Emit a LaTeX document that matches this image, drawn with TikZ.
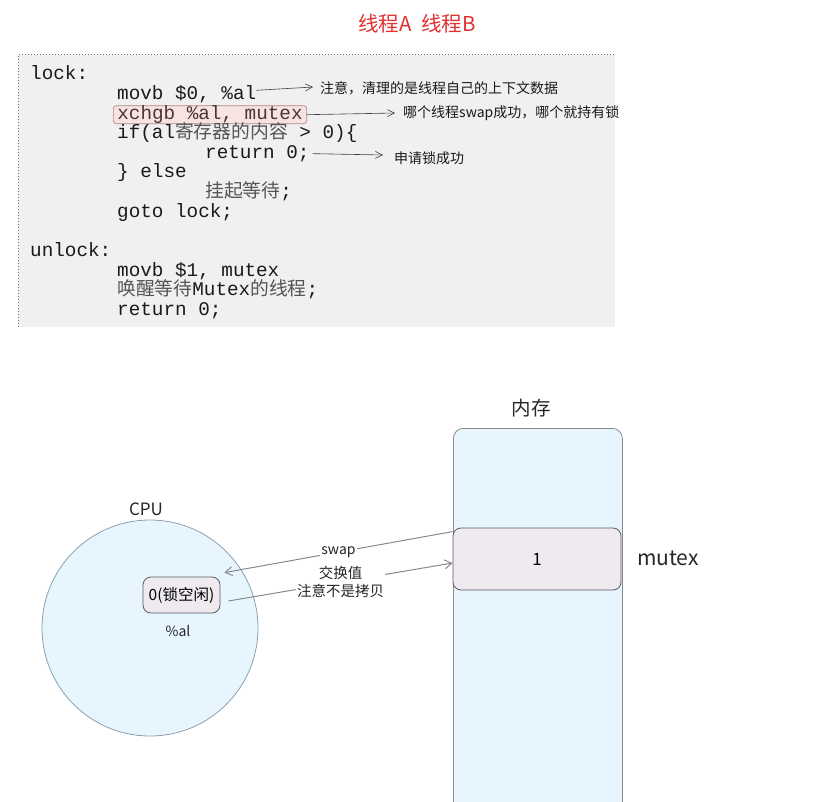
\documentclass[tikz,border=0pt]{standalone}
\usepackage{fontspec}
\setmainfont{Noto Sans CJK SC}
\newfontfamily\cjk{Noto Sans CJK SC}
\newfontfamily\codefont{Liberation Mono}
\usetikzlibrary{arrows.meta}
\definecolor{codebg}{HTML}{F0F0F0}
\definecolor{codetext}{HTML}{1A1A1A}
\definecolor{cjkgray}{HTML}{555555}
\definecolor{xbfill}{HTML}{F8E3E3}
\definecolor{xbdraw}{HTML}{B08585}
\definecolor{xbtext}{HTML}{4A3434}
\definecolor{titlered}{HTML}{E03131}
\definecolor{lightblue}{HTML}{E7F5FF}
\definecolor{cellfill}{HTML}{EEEAF0}
\definecolor{celldraw}{HTML}{5C5C5C}
\definecolor{memdraw}{HTML}{8A8A8A}
\definecolor{cpudraw}{HTML}{8FA0AD}
\definecolor{conncol}{HTML}{8A8A8A}
\newcommand\czh[1]{{\cjk\fontsize{18.8}{20}\selectfont\color{cjkgray}#1}}
\begin{document}
\begin{tikzpicture}[x=1pt,y=-1pt,
  codeline/.style={anchor=base west, inner sep=0pt, font=\codefont\fontsize{19.3}{20}\selectfont, text=codetext},
  xchgbox/.style={draw=xbdraw, fill=xbfill, rounded corners=3pt, line width=0.7pt, text=xbtext,
    inner xsep=4pt, inner ysep=1pt, text height=12.5pt, text depth=3.5pt},
  note/.style={anchor=west, inner sep=0pt, font=\fontsize{14}{15}\selectfont, text=codetext},
  notearrow/.style={draw=black!75, line width=0.6pt, -{Straight Barb[length=7pt,width=7pt]}},
  hand/.style={inner sep=1pt, text=black!85},
  cellbox/.style={draw=celldraw, fill=cellfill, rounded corners=8pt, line width=0.8pt},
  conn/.style={draw=conncol, line width=1pt, -{Straight Barb[length=7pt,width=9pt]}},
  lbl/.style={fill=white, inner sep=1pt, text=black!85}
]
\useasboundingbox (0,0) rectangle (821,802);

% code block background
\fill[codebg] (18,55) rectangle (615,327);
\draw[black!55, line width=1pt, dash pattern=on 1pt off 2pt] (18,327) -- (18,55) -- (615,55);

% title
\node[font=\fontsize{20.5}{22}\selectfont, text=titlered] (title) at (417,24) {线程A\ \ 线程B};

% code lines
\node[codeline] (c1) at (30,80) {lock:};
\node[codeline] (c2) at (117,99.6) {movb \$0, \%al};
\node[codeline, xchgbox] (c3) at (113,119.2) {xchgb \%al, mutex};
\node[codeline] (c4) at (117,138.8) {if(al\czh{寄存器的内容} > 0)\{};
\node[codeline] (c5) at (205,158.4) {return 0;};
\node[codeline] (c6) at (117,178) {\} else};
\node[codeline] (c7) at (205,197.6) {\czh{挂起等待};};
\node[codeline] (c8) at (117,217.2) {goto lock;};
\node[codeline] (c9) at (30,256.4) {unlock:};
\node[codeline] (c10) at (117,276) {movb \$1, mutex};
\node[codeline] (c11) at (117,295.6) {\czh{唤醒等待}Mutex\czh{的线程};};
\node[codeline] (c12) at (117,315.2) {return 0;};

% notes
\node[note] (n1) at (320,88) {注意，清理的是线程自己的上下文数据};
\node[note] (n2) at (403,113) {哪个线程swap成功，哪个就持有锁};
\node[note] (n3) at (394,158) {申请锁成功};
\draw[notearrow] ([yshift=4pt]c2.east) -- ([xshift=-7pt,yshift=1pt]n1.west);
\draw[notearrow] (c3.east) -- ([xshift=-8pt]n2.west);
\draw[notearrow] ([xshift=3pt]c5.east) -- ([xshift=-11pt,yshift=3pt]n3.west);

% memory
\node[draw=memdraw, fill=lightblue, rounded corners=10pt, line width=0.8pt,
  minimum width=169pt, minimum height=384pt, anchor=north west] (mem) at (453,428) {};
\node[hand, font=\fontsize{19.5}{21}\selectfont] (memlabel) at (531,408) {内存};
\node[cellbox, minimum width=168pt, minimum height=62pt, font=\fontsize{17}{19}\selectfont] (cell) at (537,559) {1};
\node[hand, font=\fontsize{21}{23}\selectfont] (mutexlabel) at (668,558) {mutex};

% cpu
\node[circle, draw=cpudraw, fill=lightblue, line width=0.8pt, minimum size=216pt] (cpu) at (150,628) {};
\node[hand, font=\fontsize{17}{19}\selectfont] (cpulabel) at (146,509) {CPU};
\node[cellbox, minimum width=77pt, minimum height=36pt, font=\fontsize{15.5}{17}\selectfont] (al) at (181.5,595) {0(锁空闲)};
\node[hand, font=\fontsize{14}{16}\selectfont] (allabel) at (178,631) {\%al};

% connectors
\draw[conn] ([yshift=-4pt]cell.north west) -- node[lbl, font=\fontsize{14}{16}\selectfont]{swap} ([xshift=4pt,yshift=4pt]al.north east);
\draw[conn] ([xshift=8pt,yshift=-6pt]al.east) -- node[lbl, align=center, font=\fontsize{14.5}{18}\selectfont]{交换值\\注意不是拷贝} ([yshift=-4pt]cell.west);
\end{tikzpicture}
\end{document}
